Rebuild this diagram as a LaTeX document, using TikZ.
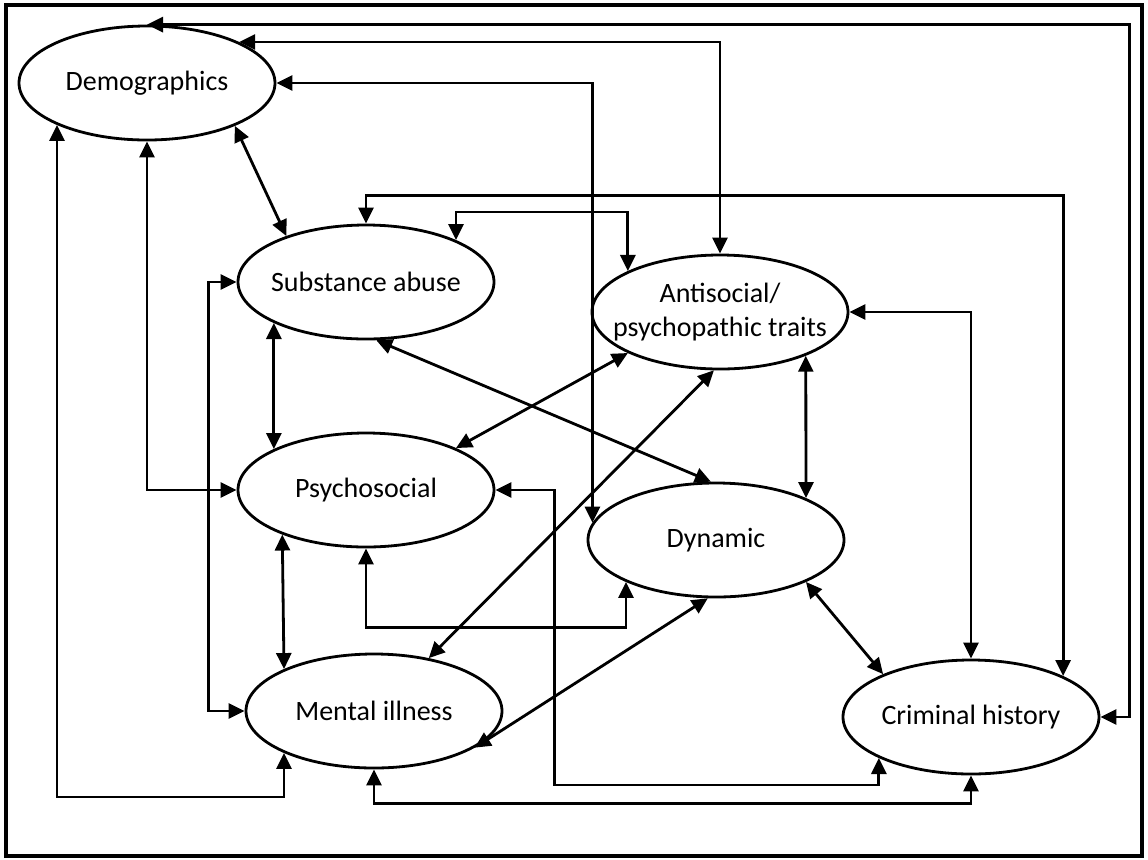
\documentclass[tikz,border=0pt]{standalone}
\usepackage{fontspec}
\setmainfont{Carlito}
\usetikzlibrary{arrows.meta,shapes.geometric}

\begin{document}
\begin{tikzpicture}[
		x=0.5pt, y=-0.5pt,
		font=\fontsize{14}{17}\selectfont,
		every node/.style={ellipse,draw,line width=1.4pt,minimum width=128pt,minimum height=57pt,inner xsep=-10pt,inner ysep=2pt,align=center},
		link/.style={line width=1.4pt,{Triangle[length=8pt,width=7.5pt]}-{Triangle[length=8pt,width=7.5pt]}}
	]

	\useasboundingbox (0,0) rectangle (1148,859);
	\draw[line width=1.9pt] (6,5) rectangle (1142,856);

	\node (demo) at (147,83) {Demographics};
	\node (subst) at (366,282) {Substance abuse};
	\node (anti) at (720,312) {Antisocial/\\psychopathic traits};
	\node (psych) at (366,490) {Psychosocial};
	\node (dyn) at (716,540) {Dynamic};
	\node (mental) at (374,711) {Mental illness};
	\node (crim) at (971,717) {Criminal history};

	\draw[link] (crim.east) -- ++(29,0) |- (demo.north);
	\draw[link] (anti.north) |- (demo.24);
	\draw[link] (dyn.172) |- (demo.east);
	\draw[link] (demo.-26) -- (subst.150);
	\draw[link] (demo.south) |- (psych.west);
	\draw[link] (demo.205) -- ++(0,672) -| (mental.205);

	\draw[link] (subst.north) -- ++(0,-28) -| (crim.24);
	\draw[link] (subst.25) -- ++(0,-28) -| (anti.156);
	\draw[link] (subst.west) -- ++(-28,0) |- (mental.west);
	\draw[link] (subst.204) -- (psych.156);
	\draw[link] (subst.-80) -- (dyn.95);

	\draw[link] (anti.204) -- (psych.25);
	\draw[link] (anti.264) -- (mental.44);
	\draw[link] (anti.-27) -- (dyn.25);
	\draw[link] (anti.east) -| (crim.north);

	\draw[link] (psych.east) -- ++(59,0) -- ++(0,295) -| (crim.204);
	\draw[link] (psych.south) -- ++(0,79) -| (dyn.205);
	\draw[link] (psych.208) -- (mental.155);

	\draw[link] (dyn.262) -- (mental.-20);
	\draw[link] (dyn.-25) -- (crim.154);
	\draw[link] (mental.south) -- ++(0,34) -| (crim.south);

\end{tikzpicture}
\end{document}
